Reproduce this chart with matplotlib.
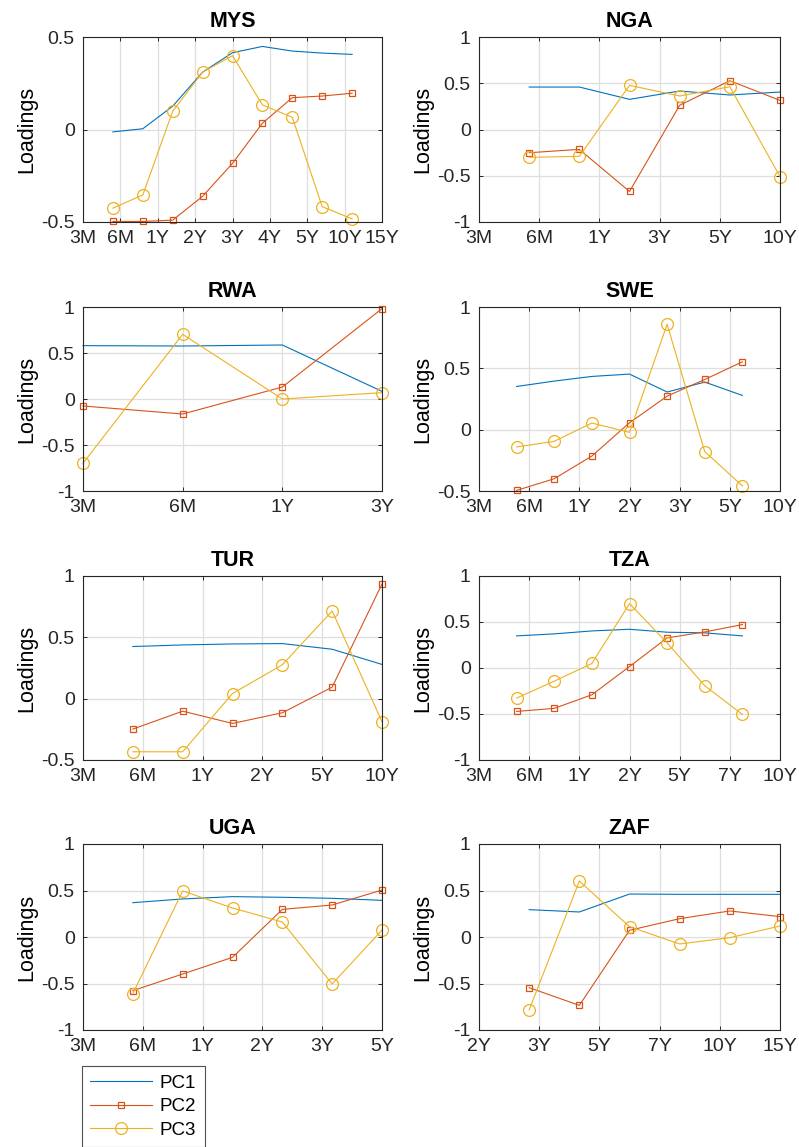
import matplotlib
matplotlib.use("Agg")
import matplotlib.pyplot as plt
from matplotlib.ticker import FormatStrFormatter

plt.rcParams["font.family"] = ["Liberation Sans", "DejaVu Sans"]
plt.rcParams["axes.unicode_minus"] = False

# tenor labels and loadings per country
mys_ticks = ["3M", "6M", "1Y", "2Y", "3Y", "4Y", "5Y", "10Y", "15Y"]
mys_pc1 = [-0.013, 0.004, 0.126, 0.31, 0.415, 0.449, 0.424, 0.413, 0.406]
mys_pc2 = [-0.497, -0.497, -0.49, -0.361, -0.183, 0.034, 0.172, 0.181, 0.196]
mys_pc3 = [-0.425, -0.354, 0.099, 0.31, 0.399, 0.133, 0.066, -0.417, -0.483]

nga_ticks = ["3M", "6M", "1Y", "3Y", "5Y", "10Y"]
nga_pc1 = [0.459, 0.459, 0.326, 0.416, 0.373, 0.405]
nga_pc2 = [-0.251, -0.215, -0.67, 0.262, 0.527, 0.315]
nga_pc3 = [-0.301, -0.29, 0.477, 0.362, 0.462, -0.509]

rwa_ticks = ["3M", "6M", "1Y", "3Y"]
rwa_pc1 = [0.58, 0.576, 0.587, 0.083]
rwa_pc2 = [-0.076, -0.163, 0.13, 0.982]
rwa_pc3 = [-0.699, 0.703, 0.0, 0.069]

swe_ticks = ["3M", "6M", "1Y", "2Y", "3Y", "5Y", "10Y"]
swe_pc1 = [0.352, 0.396, 0.434, 0.453, 0.307, 0.388, 0.279]
swe_pc2 = [-0.495, -0.4, -0.215, 0.056, 0.273, 0.409, 0.553]
swe_pc3 = [-0.141, -0.095, 0.054, -0.022, 0.859, -0.179, -0.458]

tur_ticks = ["3M", "6M", "1Y", "2Y", "5Y", "10Y"]
tur_pc1 = [0.425, 0.438, 0.446, 0.449, 0.403, 0.279]
tur_pc2 = [-0.248, -0.102, -0.202, -0.115, 0.094, 0.935]
tur_pc3 = [-0.433, -0.433, 0.042, 0.276, 0.715, -0.188]

tza_ticks = ["3M", "6M", "1Y", "2Y", "5Y", "7Y", "10Y"]
tza_pc1 = [0.349, 0.371, 0.403, 0.421, 0.389, 0.382, 0.349]
tza_pc2 = [-0.472, -0.439, -0.291, 0.016, 0.327, 0.392, 0.472]
tza_pc3 = [-0.327, -0.143, 0.049, 0.7, 0.273, -0.193, -0.505]

uga_ticks = ["3M", "6M", "1Y", "2Y", "3Y", "5Y"]
uga_pc1 = [0.369, 0.409, 0.434, 0.427, 0.416, 0.394]
uga_pc2 = [-0.577, -0.398, -0.219, 0.297, 0.344, 0.505]
uga_pc3 = [-0.609, 0.495, 0.312, 0.161, -0.505, 0.075]

zaf_ticks = ["2Y", "3Y", "5Y", "7Y", "10Y", "15Y"]
zaf_pc1 = [0.294, 0.269, 0.462, 0.459, 0.459, 0.459]
zaf_pc2 = [-0.545, -0.735, 0.072, 0.197, 0.28, 0.219]
zaf_pc3 = [-0.785, 0.602, 0.111, -0.075, -0.007, 0.118]

panels = [
    ("MYS", mys_ticks, mys_pc1, mys_pc2, mys_pc3, (0, 10), (-0.5, 0.5)),
    ("NGA", nga_ticks, nga_pc1, nga_pc2, nga_pc3, (0, 6), (-1, 1)),
    ("RWA", rwa_ticks, rwa_pc1, rwa_pc2, rwa_pc3, (1, 4), (-1, 1)),
    ("SWE", swe_ticks, swe_pc1, swe_pc2, swe_pc3, (0, 8), (-0.5, 1)),
    ("TUR", tur_ticks, tur_pc1, tur_pc2, tur_pc3, (0, 6), (-0.5, 1)),
    ("TZA", tza_ticks, tza_pc1, tza_pc2, tza_pc3, (0, 8), (-1, 1)),
    ("UGA", uga_ticks, uga_pc1, uga_pc2, uga_pc3, (0, 6), (-1, 1)),
    ("ZAF", zaf_ticks, zaf_pc1, zaf_pc2, zaf_pc3, (0, 6), (-1, 1)),
]

W, H = 799, 1147
cols = [(83, 382), (479, 780)]
rows = [(37, 222), (307, 491), (576, 760), (844, 1030)]

blue, red, yellow = "#0072BD", "#D95319", "#EDB120"
dark = "#262626"

fig = plt.figure(figsize=(W / 100, H / 100), dpi=100)

for i, (name, ticks, pc1, pc2, pc3, xlim, ylim) in enumerate(panels):
    x0, x1 = cols[i % 2]
    y0, y1 = rows[i // 2]
    ax = fig.add_axes([x0 / W, 1 - y1 / H, (x1 - x0) / W, (y1 - y0) / H])
    xs = list(range(1, len(pc1) + 1))
    l1, = ax.plot(xs, pc1, color=blue, lw=0.8, label="PC1", clip_on=False)
    l2, = ax.plot(xs, pc2, color=red, lw=0.8, marker="s", ms=4.5,
                  mfc="none", mec=red, mew=0.9, label="PC2", clip_on=False)
    l3, = ax.plot(xs, pc3, color=yellow, lw=0.8, marker="o", ms=8.5,
                  mfc="none", mec=yellow, mew=0.9, label="PC3", clip_on=False)
    ax.set_xlim(*xlim)
    ax.set_ylim(*ylim)
    n = len(ticks)
    ax.set_xticks([xlim[0] + k * (xlim[1] - xlim[0]) / (n - 1) for k in range(n)])
    ax.set_xticklabels(ticks)
    yt = []
    v = ylim[0]
    while v <= ylim[1] + 1e-9:
        yt.append(round(v, 2))
        v += 0.5
    ax.set_yticks(yt)
    ax.yaxis.set_major_formatter(FormatStrFormatter("%g"))
    ax.grid(True, color="#dedede", lw=0.9)
    ax.set_axisbelow(True)
    for s in ax.spines.values():
        s.set_color(dark)
        s.set_linewidth(0.8)
    ax.tick_params(direction="in", length=3, width=0.7, color=dark,
                   labelcolor=dark, labelsize=14, top=True, right=True, pad=6)
    ax.set_title(name, fontsize=15.5, fontweight="bold", pad=7)
    ax.set_ylabel("Loadings", fontsize=15.5, labelpad=3)

leg = fig.legend(handles=[l1, l2, l3], loc="upper left",
                 bbox_to_anchor=(82 / W, 1 - 1066 / H), fontsize=13.5,
                 frameon=True, fancybox=False, handlelength=3.3,
                 labelspacing=0.35, borderpad=0.45, handletextpad=0.4,
                 borderaxespad=0)
leg.get_frame().set_edgecolor(dark)
leg.get_frame().set_linewidth(0.8)

fig.savefig("out.png", dpi=100)
